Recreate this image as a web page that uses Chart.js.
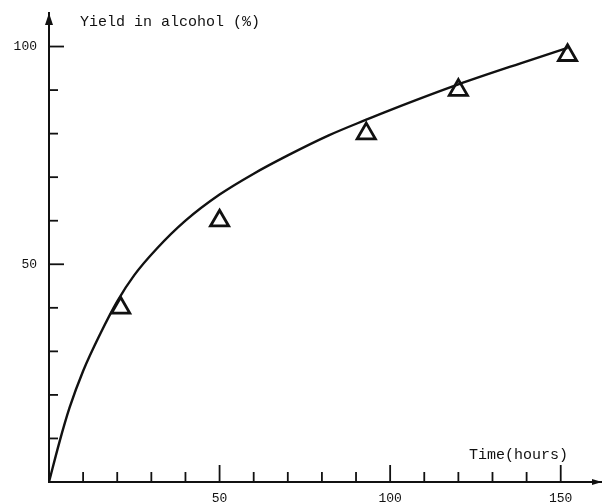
<!DOCTYPE html>
<html>
<head>
<meta charset="utf-8">
<script src="https://cdn.jsdelivr.net/npm/chart.js@4"></script>
<style>
  html, body { margin: 0; padding: 0; background: #fff; }
  #wrap { width: 602px; height: 504px; }
</style>
</head>
<body>
<div id="wrap"><canvas id="yieldChart"></canvas></div>
<script>
// fitted curve (hours, % yield)
const curveHours = [0, 3, 6, 10, 15, 20, 25, 31.5, 40, 50, 60, 70, 82, 93, 100, 120, 140, 152];
const curveYield = [0, 9, 17, 25.5, 34, 41.5, 47.5, 53.5, 60, 66, 70.8, 75, 79.6, 83.2, 85.4, 91.3, 96.6, 99.7];

// measured points (triangles)
const pointHours = [21, 50, 93, 120, 152];
const pointYield = [40, 60, 80, 90, 98];

const xLabelTicks = [50, 100, 150];
const yLabelTicks = [50, 100];
const xMinorTicks = [10, 20, 30, 40, 50, 60, 70, 80, 90, 100, 110, 120, 130, 140, 150];
const yMinorTicks = [10, 20, 30, 40, 50, 60, 70, 80, 90, 100];

const xTitle = "Time(hours)";
const yTitle = "Yield in alcohol (%)";

const ink = "#111";
const monoFont = "Liberation Mono";

// no extra room for the tick labels: the plot edges are set by hand
function noLabelPadding(scale) {
  scale.paddingTop = 0;
  scale.paddingBottom = 0;
  scale.paddingLeft = 0;
  scale.paddingRight = 0;
}

const axisDecor = {
  id: "axisDecor",
  afterDraw(chart) {
    const { ctx, chartArea, scales } = chart;
    const x = scales.x, y = scales.y;
    const x0 = x.getPixelForValue(0);
    const y0 = y.getPixelForValue(0);
    ctx.save();
    ctx.strokeStyle = ink;
    ctx.fillStyle = ink;
    ctx.lineWidth = 1.8;

    // inward ticks
    xMinorTicks.forEach((v) => {
      const px = x.getPixelForValue(v);
      const len = v % 50 === 0 ? 17 : 10;
      ctx.beginPath();
      ctx.moveTo(px, y0);
      ctx.lineTo(px, y0 - len);
      ctx.stroke();
    });
    yMinorTicks.forEach((v) => {
      const py = y.getPixelForValue(v);
      const len = v % 50 === 0 ? 15 : 9;
      ctx.beginPath();
      ctx.moveTo(x0, py);
      ctx.lineTo(x0 + len, py);
      ctx.stroke();
    });

    // x tick labels
    ctx.font = "13px '" + monoFont + "'";
    ctx.textAlign = "center";
    ctx.textBaseline = "middle";
    xLabelTicks.forEach((v) => {
      ctx.fillText(String(v), x.getPixelForValue(v), y0 + 17);
    });

    // arrow heads
    ctx.beginPath();
    ctx.moveTo(x0, chartArea.top);
    ctx.lineTo(x0 - 4, chartArea.top + 12);
    ctx.lineTo(x0 + 4, chartArea.top + 12);
    ctx.closePath();
    ctx.fill();
    ctx.beginPath();
    ctx.moveTo(chartArea.right, y0);
    ctx.lineTo(chartArea.right - 10, y0 - 3);
    ctx.lineTo(chartArea.right - 10, y0 + 3);
    ctx.closePath();
    ctx.fill();

    // axis titles
    ctx.font = "15px '" + monoFont + "'";
    ctx.textAlign = "left";
    ctx.fillText(yTitle, 80, 22);
    ctx.fillText(xTitle, 469, 455);
    ctx.restore();
  },
};

document.addEventListener("DOMContentLoaded", () => {
  new Chart(document.getElementById("yieldChart"), {
    type: "scatter",
    data: {
      datasets: [
        {
          label: "curve",
          data: curveHours.map((h, i) => ({ x: h, y: curveYield[i] })),
          showLine: true,
          borderColor: ink,
          borderWidth: 2.4,
          pointRadius: 0,
          cubicInterpolationMode: "monotone",
        },
        {
          label: "measured",
          data: pointHours.map((h, i) => ({ x: h, y: pointYield[i] })),
          showLine: false,
          pointStyle: "triangle",
          pointRadius: 10.5,
          pointHoverRadius: 10.5,
          borderColor: ink,
          borderWidth: 2.8,
          backgroundColor: "rgba(255,255,255,0)",
        },
      ],
    },
    options: {
      responsive: true,
      maintainAspectRatio: false,
      animation: false,
      events: [],
      layout: {
        autoPadding: false,
        padding: { top: 13, right: 0, left: 0, bottom: 0 },
      },
      plugins: {
        legend: { display: false },
        tooltip: { enabled: false },
      },
      scales: {
        x: {
          type: "linear",
          min: 0,
          max: 162.1,
          afterFit: (scale) => {
            scale.height = 22;
            noLabelPadding(scale);
          },
          grid: { display: false, drawTicks: false },
          border: { display: true, color: ink, width: 2 },
          ticks: { display: false },
        },
        y: {
          min: 0,
          max: 107.7,
          afterBuildTicks: (scale) => {
            scale.ticks = yLabelTicks.map((v) => ({ value: v }));
          },
          afterFit: (scale) => {
            scale.width = 49;
            noLabelPadding(scale);
          },
          grid: { display: false, drawTicks: false },
          border: { display: true, color: ink, width: 2 },
          ticks: {
            padding: 12,
            color: ink,
            font: { family: monoFont, size: 13 },
          },
        },
      },
    },
    plugins: [axisDecor],
  });
});
</script>
</body>
</html>
